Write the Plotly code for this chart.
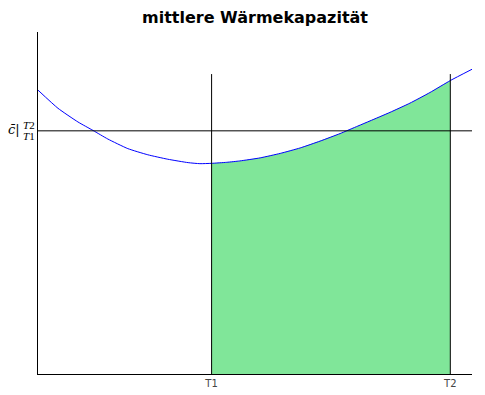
import plotly.graph_objects as go

# data (arbitrary units: x 0..10, y 0..10)
curve_x = [0.0, 0.46, 0.92, 1.27, 1.61, 2.07, 2.53, 2.99, 3.46, 3.73, 4.0,
           4.35, 4.65, 5.12, 5.58, 6.04, 6.50, 6.96, 7.37, 7.65, 8.11, 8.57, 9.03, 9.5, 10.0]
curve_y = [8.30, 7.77, 7.37, 7.12, 6.87, 6.59, 6.41, 6.28, 6.18, 6.15, 6.16,
           6.19, 6.23, 6.32, 6.45, 6.61, 6.81, 7.03, 7.25, 7.40, 7.65, 7.92, 8.23, 8.58, 8.91]
T1 = 4.0
T2 = 9.5
c_mean = 7.11
vline_top = 8.77
tick_vals = [T1, T2]
tick_text = ["T1", "T2"]
x_range = [0, 10]
y_range = [0, 10]

fill_x = [x for x in curve_x if T1 <= x <= T2]
fill_y = [y for x, y in zip(curve_x, curve_y) if T1 <= x <= T2]

fig = go.Figure()
fig.add_trace(go.Scatter(x=[T1] + fill_x + [T2], y=[0] + fill_y + [0], mode="lines",
                         line=dict(width=0), fill="toself", fillcolor="#80e699",
                         hoverinfo="skip"))
fig.add_trace(go.Scatter(x=curve_x, y=curve_y, mode="lines",
                         line=dict(color="blue", width=1, shape="spline", smoothing=0.5)))
fig.add_trace(go.Scatter(x=x_range, y=[c_mean, c_mean], mode="lines",
                         line=dict(color="black", width=1)))
fig.add_trace(go.Scatter(x=[T1, T1], y=[0, vline_top], mode="lines",
                         line=dict(color="black", width=1)))
fig.add_trace(go.Scatter(x=[T2, T2], y=[0, vline_top], mode="lines",
                         line=dict(color="black", width=1)))

# page has an 8px body margin: figure is 477x387, placed at (8, 8)
W, H = 477, 387
fig.update_layout(
    width=W, height=H,
    margin=dict(l=30, r=13, t=24, b=21, autoexpand=False),
    plot_bgcolor="white", paper_bgcolor="white",
    showlegend=False,
    title=dict(text="<b>mittlere Wärmekapazität</b>", x=247 / W,
               xanchor="center", y=1 - 9 / H, yanchor="middle", automargin=False,
               font=dict(family="DejaVu Sans", size=16, color="black")),
    xaxis=dict(range=x_range, showgrid=False, zeroline=False, showline=True,
               linecolor="black", linewidth=1, tickmode="array", tickvals=tick_vals,
               ticktext=tick_text, ticks="", tickfont=dict(family="DejaVu Sans", size=10, color="#444"),
               fixedrange=True, automargin=False),
    yaxis=dict(range=y_range, showgrid=False, zeroline=False, showline=True,
               linecolor="black", linewidth=1, showticklabels=False, ticks="",
               fixedrange=True, automargin=False),
)

# y tick label: c-bar |_{T1}^{T2}
fig.add_annotation(x=0, y=c_mean, xref="paper", yref="y", text="<i>c̄</i>|", showarrow=False,
                   xanchor="right", yanchor="middle", xshift=-16, yshift=1,
                   font=dict(family="DejaVu Serif", size=13, color="black"))
fig.add_annotation(x=0, y=c_mean, xref="paper", yref="y", text="<i>T</i>2", showarrow=False,
                   xanchor="left", yanchor="middle", xshift=-17, yshift=6,
                   font=dict(family="Liberation Serif", size=11, color="black"))
fig.add_annotation(x=0, y=c_mean, xref="paper", yref="y", text="<i>T</i>1", showarrow=False,
                   xanchor="left", yanchor="middle", xshift=-17, yshift=-5,
                   font=dict(family="Liberation Serif", size=11, color="black"))

fig.write_html("out.html")
